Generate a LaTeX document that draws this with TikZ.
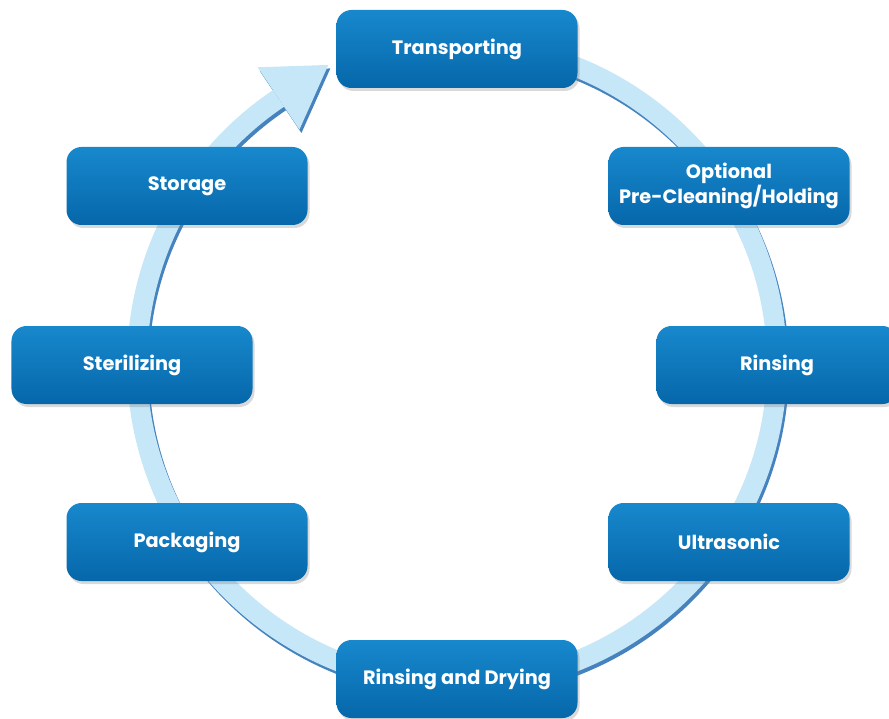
\documentclass[tikz,border=0pt]{standalone}
\usepackage{fontspec}
\setmainfont{Poppins}
\usetikzlibrary{calc,shadows}
\definecolor{stageblue}{HTML}{0A7FC7}
\definecolor{stagetop}{HTML}{1888CD}
\definecolor{stagebot}{HTML}{0667AA}
\definecolor{ringblue}{HTML}{C6E7F8}
\definecolor{ringedge}{HTML}{4682BE}
\tikzset{%
  stage/.style     = {shape=rectangle, rounded corners=3mm,%
                      minimum width=4.82cm, minimum height=1.56cm,%
                      align=center, text=white,%
                      top color=stagetop, middle color=stageblue, bottom color=stagebot,%
                      font=\bfseries\fontsize{11}{14}\selectfont,%
                      drop shadow={shadow xshift=0.4mm, shadow yshift=-0.6mm, opacity=0.3}},%
  ring/.style      = {line width=0.4cm, draw=ringblue},%
  ringshade/.style = {line width=0.4cm, draw=ringedge}%
}
\begin{document}
\begin{tikzpicture}
  \useasboundingbox (0,0) rectangle (17.78,-14.38);
  \coordinate (c) at (9.14,-7.28);
  \coordinate (b) at ($(c)+(123.9:6.4)$);
  % ring and arrow head, shadow first
  \begin{scope}[transform canvas={xshift=0.4mm, yshift=-0.7mm}]
    \draw[ringshade] ($(c)+(90:6.4)$) arc[start angle=90, end angle=-236.1, radius=6.4];
    \fill[ringedge] ($(b)+(123.9:0.75)$) -- ($(b)+(33.9:1.2)$) -- ($(b)+(-56.1:0.75)$) -- cycle;
  \end{scope}
  \draw[ring] ($(c)+(90:6.4)$) arc[start angle=90, end angle=-236.1, radius=6.4];
  \fill[ringblue] ($(b)+(123.9:0.75)$) -- ($(b)+(33.9:1.2)$) -- ($(b)+(-56.1:0.75)$) -- cycle;
  % stages
  \node[stage] (trans)  at (9.14,-0.98)  {Transporting};
  \node[stage] (precl)  at (14.58,-3.72) {Optional\\Pre-Cleaning/Holding};
  \node[stage] (rinse)  at (15.54,-7.30) {Rinsing};
  \node[stage] (ultra)  at (14.58,-10.84) {Ultrasonic};
  \node[stage] (dry)    at (9.14,-13.58) {Rinsing and Drying};
  \node[stage] (pack)   at (3.74,-10.84) {Packaging};
  \node[stage] (steril) at (2.64,-7.30)  {Sterilizing};
  \node[stage] (store)  at (3.74,-3.72)  {Storage};
\end{tikzpicture}
\end{document}
